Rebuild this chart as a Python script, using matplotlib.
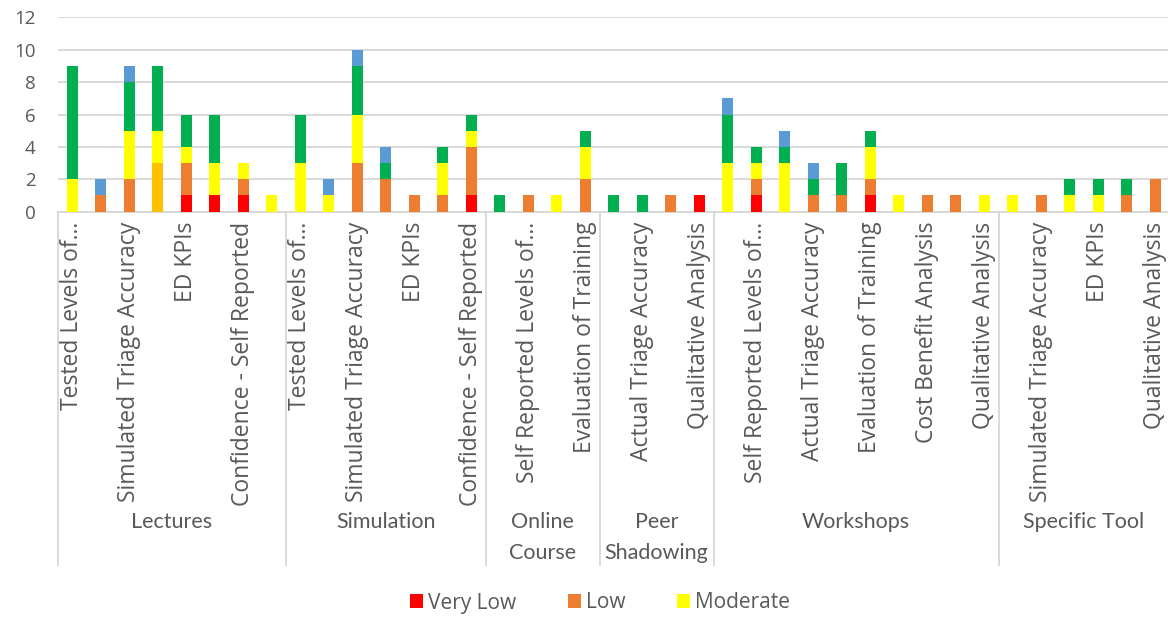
import matplotlib
matplotlib.use("Agg")
import matplotlib.pyplot as plt
from matplotlib.patches import Patch
import numpy as np

# Intervention groups and how many outcome categories each one holds
groups = ["Lectures", "Simulation", "Online\nCourse", "Peer\nShadowing", "Workshops", "Specific Tool"]
group_sizes = [8, 7, 4, 4, 10, 6]

# Outcome category labels, one per bar (Excel-style truncated text)
outcomes = [
    # Lectures
    "Tested Levels of…", "Self Reported Levels of…", "Simulated Triage Accuracy",
    "Actual Triage Accuracy", "ED KPIs", "Patient Outcomes",
    "Confidence - Self Reported", "Evaluation of Training",
    # Simulation
    "Tested Levels of…", "Self Reported Levels of…", "Simulated Triage Accuracy",
    "Actual Triage Accuracy", "ED KPIs", "Patient Outcomes", "Confidence - Self Reported",
    # Online Course
    "Tested Levels of…", "Self Reported Levels of…", "Confidence - Self Reported",
    "Evaluation of Training",
    # Peer Shadowing
    "Self Reported Levels of…", "Actual Triage Accuracy", "Evaluation of Training",
    "Qualitative Analysis",
    # Workshops
    "Tested Levels of…", "Self Reported Levels of…", "Simulated Triage Accuracy",
    "Actual Triage Accuracy", "ED KPIs", "Evaluation of Training",
    "Confidence - Self Reported", "Cost Benefit Analysis", "Patient Outcomes",
    "Qualitative Analysis",
    # Specific Tool
    "Tested Levels of…", "Simulated Triage Accuracy", "Actual Triage Accuracy",
    "ED KPIs", "Evaluation of Training", "Qualitative Analysis",
]

# Number of studies per quality rating (stacked bottom to top)
very_low = [0, 0, 0, 0, 1, 1, 1, 0,
            0, 0, 0, 0, 0, 0, 1,
            0, 0, 0, 0,
            0, 0, 0, 1,
            0, 1, 0, 0, 0, 1, 0, 0, 0, 0,
            0, 0, 0, 0, 0, 0]
low = [0, 1, 2, 3, 2, 0, 1, 0,
       0, 0, 3, 2, 1, 1, 3,
       0, 1, 0, 2,
       0, 0, 1, 0,
       0, 1, 0, 1, 1, 1, 0, 1, 1, 0,
       0, 1, 0, 0, 1, 2]
moderate = [2, 0, 3, 2, 1, 2, 1, 1,
            3, 1, 3, 0, 0, 2, 1,
            0, 0, 1, 2,
            0, 0, 0, 0,
            3, 1, 3, 0, 0, 2, 1, 0, 0, 1,
            1, 0, 1, 1, 0, 0]
high = [7, 0, 3, 4, 2, 3, 0, 0,
        3, 0, 3, 1, 0, 1, 1,
        1, 0, 0, 1,
        1, 1, 0, 0,
        3, 1, 1, 1, 2, 1, 0, 0, 0, 0,
        0, 0, 1, 1, 1, 0]
unclear = [0, 1, 1, 0, 0, 0, 0, 0,
           0, 1, 1, 1, 0, 0, 0,
           0, 0, 0, 0,
           0, 0, 0, 0,
           1, 0, 1, 1, 0, 0, 0, 0, 0, 0,
           0, 0, 0, 0, 0, 0]

series = [
    ("Very Low", very_low, "#FF0000"),
    ("Low", low, "#ED7D31"),
    ("Moderate", moderate, "#FFFF00"),
    ("High", high, "#00B050"),
    ("Unclear", unclear, "#5B9BD5"),
]

TEXT = "#595959"
GRID = "#D9D9D9"

fig = plt.figure(figsize=(11.68, 6.19), dpi=100)
W, H = 1168, 619
x0_px, x1_px = 58, 1169.5
y0_px, y1_px = 211.7, 17.3
ax = fig.add_axes([x0_px / W, (H - y0_px) / H, (x1_px - x0_px) / W, (y0_px - y1_px) / H])

x = np.arange(len(outcomes))
bottom = np.zeros(len(outcomes))
handles = []
for name, vals, col in series:
    vals = np.asarray(vals, dtype=float)
    colors = [col] * len(vals)
    if name == "Low":
        colors[3] = "#FFC000"  # highlighted point in the Lectures group
    ax.bar(x, vals, width=0.4, bottom=bottom, color=colors, linewidth=0, zorder=3)
    bottom += vals
    if name in ("Very Low", "Low", "Moderate"):
        handles.append(Patch(facecolor=col, label=name))

ax.set_xlim(-0.5, len(outcomes) - 0.5)
ax.set_ylim(0, 12)
ax.set_yticks(np.arange(0, 13, 2))
ax.yaxis.grid(True, color=GRID, linewidth=1.4, zorder=0)
ax.set_axisbelow(True)
for s in ("top", "right", "left"):
    ax.spines[s].set_visible(False)
ax.spines["bottom"].set_color(GRID)
ax.spines["bottom"].set_linewidth(1.4)
ax.tick_params(axis="y", length=0, pad=16, labelsize=13.5, labelcolor=TEXT)
for lab in ax.get_yticklabels():
    lab.set_fontfamily("Open Sans")

# every second category label, as the axis shows
shown = x[::2]
ax.set_xticks(shown)
ax.set_xticklabels([outcomes[i] for i in shown], rotation=90, fontsize=16.5,
                   color=TEXT, family="Open Sans")
ax.tick_params(axis="x", length=0, pad=7)

# group separators and group names under the category labels
trans = ax.get_xaxis_transform()
ax_h = y0_px - y1_px
line_bot = (y0_px - 565) / ax_h
label_top = (y0_px - 512) / ax_h
edges = np.concatenate([[0], np.cumsum(group_sizes)]) - 0.5
for left in edges[:-1]:
    ax.plot([left, left], [0, line_bot], transform=trans, color=GRID,
            linewidth=1.4, clip_on=False)
for g, a, b in zip(groups, edges[:-1], edges[1:]):
    ax.text((a + b) / 2, label_top, g, transform=trans, ha="center", va="top",
            fontsize=15.5, color=TEXT, family="Lato", linespacing=1.7)

fig.legend(handles=handles, loc="center", bbox_to_anchor=(600 / W, 1 - 603 / H),
           ncol=3, frameon=False, prop={"family": "Open Sans", "size": 15},
           labelcolor=TEXT, handlelength=0.63, handleheight=0.63,
           handletextpad=0.25, columnspacing=2.45)

fig.savefig("out.png", dpi=100)
